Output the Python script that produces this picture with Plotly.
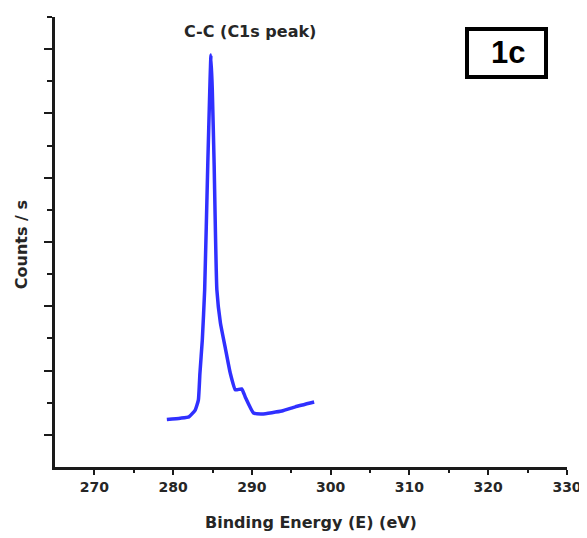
import plotly.graph_objects as go

# Binding energy (eV) and counts/s
energy = [279.2, 280.9, 282.0, 282.8, 283.2, 283.4, 283.7, 284.0, 284.4, 284.65,
          284.8, 284.97, 285.2, 285.55, 286.0, 286.6, 287.25, 287.9, 288.7, 289.15,
          290.2, 291.3, 293.8, 295.5, 297.9]
counts = [1480, 1520, 1560, 1770, 2080, 2920, 3950, 5510, 9460, 11730,
          12820, 11730, 9460, 5510, 4480, 3730, 2920, 2400, 2430, 2180,
          1680, 1650, 1740, 1870, 2020]

x_ticks = [270, 280, 290, 300, 310, 320, 330]
x_minor = [275, 285, 295, 305, 315, 325]
y_major = [1000, 3000, 5000, 7000, 9000, 11000, 13000]
y_minor = [2000, 4000, 6000, 8000, 10000, 12000, 14000]

font_main = "DejaVu Sans"
axis_col = "#1a1a1a"
text_col = "#262626"

fig = go.Figure()
fig.add_trace(go.Scatter(x=energy, y=counts, mode="lines",
                         line=dict(color="#3030ff", width=3.5, shape="spline", smoothing=0.4),
                         showlegend=False))

fig.update_layout(
    width=579, height=530,
    margin=dict(l=47, r=20, t=9, b=71),
    paper_bgcolor="white", plot_bgcolor="white",
    xaxis=dict(range=[265, 330], showgrid=False, zeroline=False, automargin=False,
               showline=True, linecolor=axis_col, linewidth=3,
               tickmode="array", tickvals=x_ticks, ticks="outside",
               ticklen=5, tickwidth=2, tickcolor=axis_col,
               minor=dict(tickmode="array", tickvals=x_minor, ticks="outside",
                          ticklen=3, tickwidth=2, tickcolor=axis_col),
               tickfont=dict(family=font_main, size=14, color=text_col, weight="bold")),
    yaxis=dict(range=[0, 14000], showgrid=False, zeroline=False, automargin=False,
               showline=True, linecolor=axis_col, linewidth=3,
               tickmode="array", tickvals=y_major, ticks="outside",
               ticklen=8, tickwidth=2, tickcolor=axis_col, showticklabels=False,
               minor=dict(tickmode="array", tickvals=y_minor, ticks="outside",
                          ticklen=5, tickwidth=2, tickcolor=axis_col)),
)

# axis titles
fig.add_annotation(x=0.5, y=-0.1244, xref="paper", yref="paper",
                   xanchor="center", yanchor="middle",
                   text="Binding Energy (E) (eV)", showarrow=False,
                   font=dict(family=font_main, size=16, color=text_col, weight="bold"))
fig.add_annotation(x=-0.0664, y=0.493, xref="paper", yref="paper",
                   xanchor="center", yanchor="middle", textangle=-90,
                   text="Counts / s", showarrow=False,
                   font=dict(family=font_main, size=16, color=text_col, weight="bold"))

fig.add_annotation(x=289.7, y=0.967, xref="x", yref="paper",
                   xanchor="center", yanchor="middle",
                   text="C-C (C1s peak)", showarrow=False,
                   font=dict(family=font_main, size=16, color=text_col, weight="bold"))

fig.add_shape(type="rect", xref="paper", yref="paper",
              x0=0.8047, x1=0.959, y0=0.8667, y1=0.9733,
              line=dict(color="black", width=4))
fig.add_annotation(x=0.885, y=0.92, xref="paper", yref="paper",
                   xanchor="center", yanchor="middle",
                   text="1c", showarrow=False,
                   font=dict(family="Liberation Sans", size=31, color="black", weight="bold"))

fig.write_html("out.html")
